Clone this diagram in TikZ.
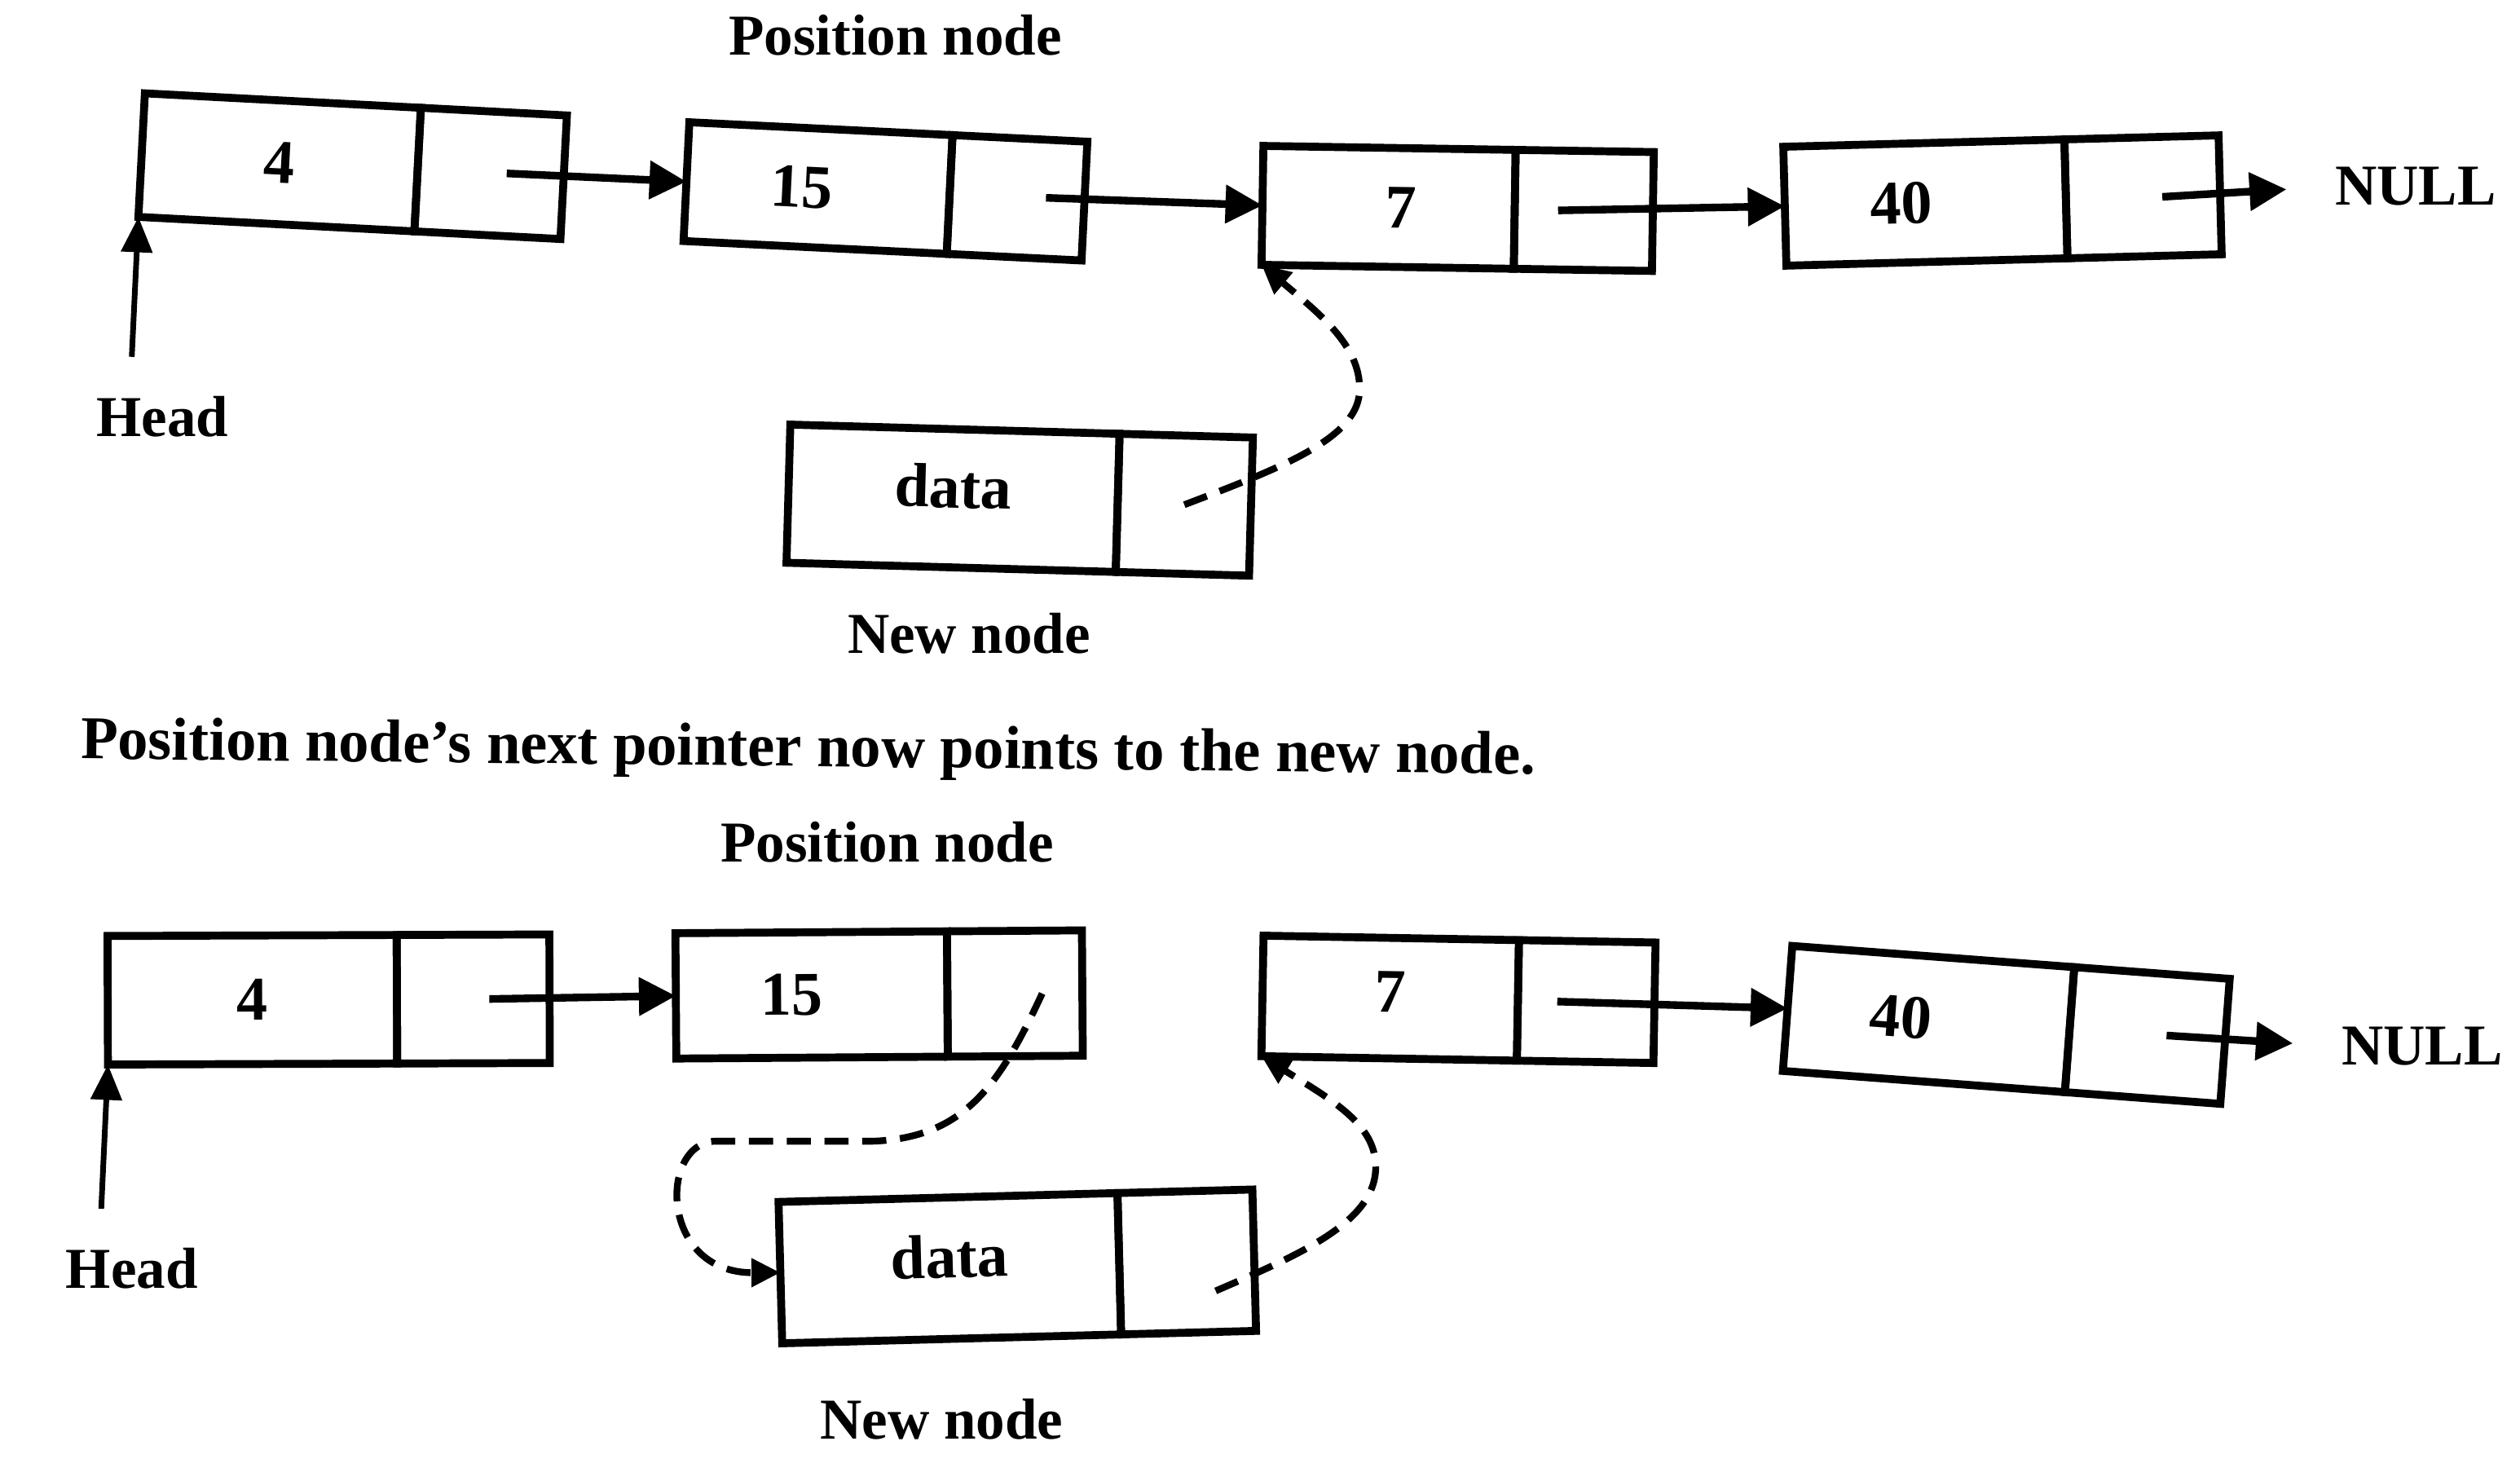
\documentclass[tikz,border=0pt]{standalone}
\usepackage{fontspec}
\setmainfont{Liberation Serif}
\usetikzlibrary{arrows.meta,calc}

\begin{document}
\begin{tikzpicture}[x=0.02cm,y=-0.02cm,
    cell/.style={draw,line width=2.8pt,inner sep=0pt,outer sep=0pt,font=\fontsize{22}{26}\selectfont\bfseries},
    ptr/.style={cell,anchor=west},
    lbl/.style={inner sep=0pt,font=\fontsize{20.5}{24}\selectfont\bfseries},
    link/.style={line width=2.7pt,-{Triangle[length=0.46cm,width=0.46cm]}},
    headlink/.style={line width=2pt,-{Triangle[length=0.44cm,width=0.38cm]}},
    newlink/.style={line width=2.4pt,dash pattern=on 0.3cm off 0.17cm,-{Triangle[length=0.36cm,width=0.34cm]}}]
            \useasboundingbox (0,0) rectangle (1568,921);
            \fill[white] (0,0) rectangle (1568,921);
            \node[cell,minimum width=3.44cm,minimum height=1.54cm,rotate=-3] (t4) at (174,101) {4};
            \node[ptr,minimum width=1.82cm,minimum height=1.54cm,rotate=-3] (t4n) at (t4.east) {};
            \node[cell,minimum width=3.28cm,minimum height=1.48cm,rotate=-2.8] (t15) at (509,117) {15\hspace*{0.4cm}};
            \node[ptr,minimum width=1.68cm,minimum height=1.48cm,rotate=-2.8] (t15n) at (t15.east) {};
            \node[cell,minimum width=3.14cm,minimum height=1.48cm,rotate=-0.9] (t7) at (864,129) {\hspace*{0.3cm}7};
            \node[ptr,minimum width=1.72cm,minimum height=1.48cm,rotate=-0.9] (t7n) at (t7.east) {};
            \node[cell,minimum width=3.5cm,minimum height=1.48cm,rotate=1.5] (t40) at (1198,126) {40\hspace*{0.6cm}};
            \node[ptr,minimum width=1.92cm,minimum height=1.48cm,rotate=1.5] (t40n) at (t40.east) {};
            \node[cell,minimum width=4.1cm,minimum height=1.72cm,rotate=-1.6,text depth=0.3cm] (td) at (593,310) {data};
            \node[ptr,minimum width=1.66cm,minimum height=1.72cm,rotate=-1.6] (tdn) at (td.east) {};
            \node[lbl] (tpos) at (557,22) {Position node};
            \node[lbl] (thead) at (101,259) {Head};
            \node[lbl] (tnew) at (603,394) {New node};
            \node[lbl] (tnull) at (1503,116) {NULL};
            \coordinate (th) at (82,222);
            \draw[link] ($(t4n.center)+(10,0)$) -- (t15.west);
            \draw[link] ($(t15n.center)+(18,0)$) -- (t7.west);
            \draw[link] ($(t7n.center)+(-16,0)$) -- (t40.west);
            \draw[link,shorten >=0.6cm] ($(t40n.center)+(12,0)$) -- (tnull.west);
            \draw[headlink] (th) -- (t4.south west);
            \draw[newlink] (tdn.center) .. controls (800,290) and (846,272) .. (846,242) .. controls (846,215) and (822,196) .. (t7.south west);

            \node[lbl,font=\fontsize{21.5}{25}\selectfont\bfseries,anchor=west,rotate=-0.6] (caption) at (50,463) {Position node’s next pointer now points to the new node.};

            \node[cell,minimum width=3.6cm,minimum height=1.6cm,rotate=0.2] (b4) at (157,622) {4};
            \node[ptr,minimum width=1.9cm,minimum height=1.6cm,rotate=0.2] (b4n) at (b4.east) {};
            \node[cell,minimum width=3.38cm,minimum height=1.56cm,rotate=0.4] (b15) at (505,619) {15\hspace*{0.5cm}};
            \node[ptr,minimum width=1.68cm,minimum height=1.56cm,rotate=0.4] (b15n) at (b15.east) {};
            \node[cell,minimum width=3.18cm,minimum height=1.5cm,rotate=-1,text depth=0.15cm] (b7) at (865,621) {7};
            \node[ptr,minimum width=1.7cm,minimum height=1.5cm,rotate=-1] (b7n) at (b7.east) {};
            \node[cell,minimum width=3.52cm,minimum height=1.56cm,rotate=-4.3] (b40) at (1200,634) {40\hspace*{0.7cm}};
            \node[ptr,minimum width=1.94cm,minimum height=1.56cm,rotate=-4.3] (b40n) at (b40.east) {};
            \node[cell,minimum width=4.22cm,minimum height=1.76cm,rotate=1.5,text depth=0.3cm] (bd) at (591,789) {data};
            \node[ptr,minimum width=1.68cm,minimum height=1.76cm,rotate=1.5] (bdn) at (bd.east) {};
            \node[lbl] (bpos) at (552,524) {Position node};
            \node[lbl] (bhead) at (82,789) {Head};
            \node[lbl] (bnew) at (586,883) {New node};
            \node[lbl] (bnull) at (1507,651) {NULL};
            \coordinate (bh) at (63,752);
            \draw[link] ($(b4n.center)+(10,0)$) -- (b15.west);
            \draw[link] ($(b7n.center)+(-18,0)$) -- (b40.west);
            \draw[link,shorten >=0.6cm] ($(b40n.center)+(12,0)$) -- (bnull.west);
            \draw[headlink] (bh) -- (b4.south west);
            \draw[newlink] ($(b15n.center)+(17,0)$) .. controls (622,675) and (600,708) .. (543,710) -- (445,710) .. controls (410,711) and (410,792) .. (bd.west);
            \draw[newlink] ($(bdn.center)+(18,18)$) .. controls (810,780) and (856,760) .. (856,726) .. controls (856,700) and (830,685) .. (b7.south west);
        \end{tikzpicture}
\end{document}
